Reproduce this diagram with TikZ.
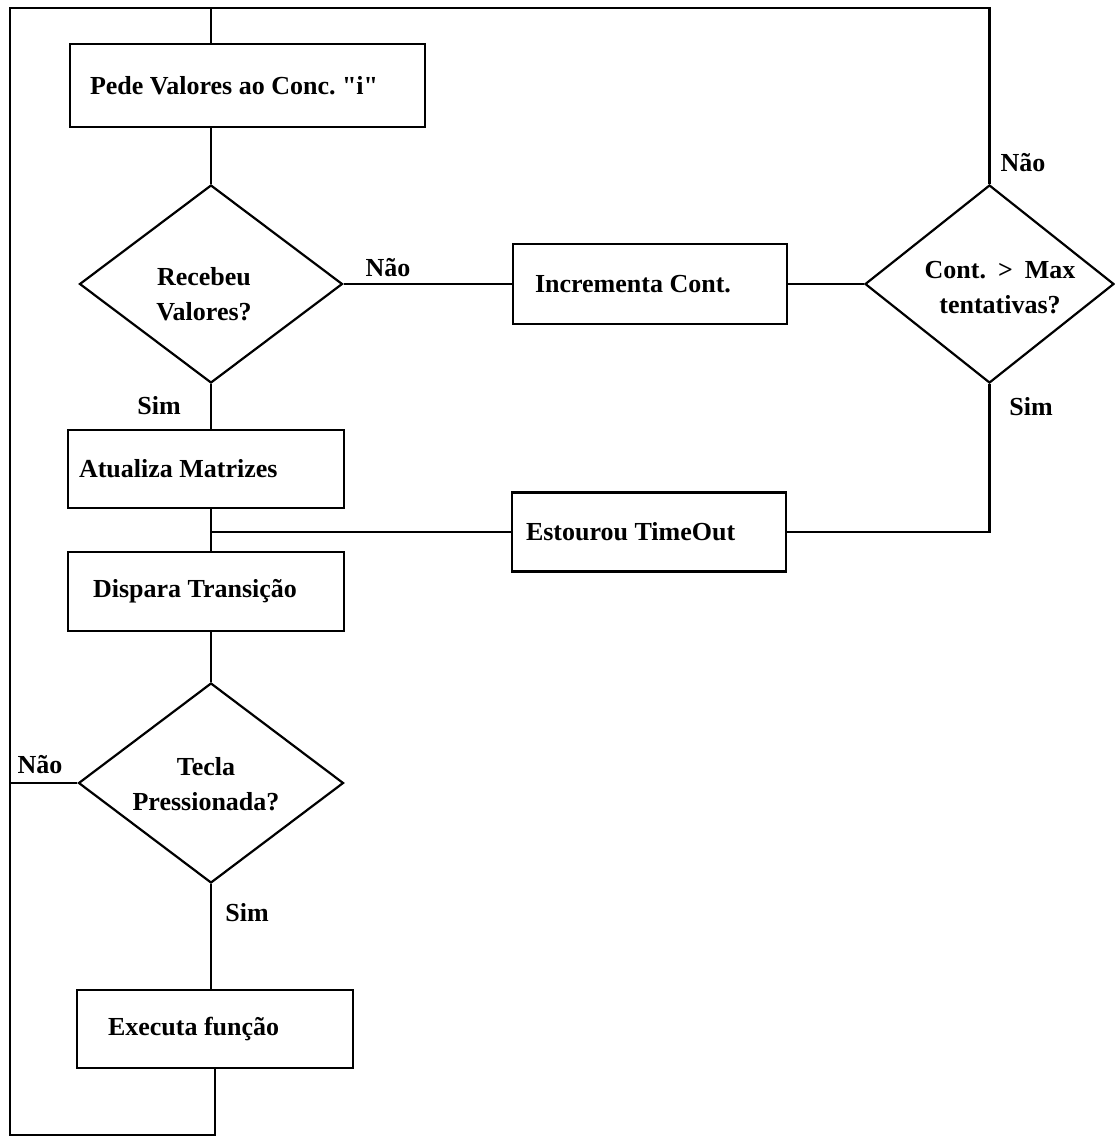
\documentclass[tikz,border=0pt]{standalone}
\usepackage{fontspec}
\setmainfont{Liberation Serif}
\usetikzlibrary{shapes.geometric}
\frenchspacing
\begin{document}
\begin{tikzpicture}[x=1pt,y=-1pt,line width=2.2pt,
  every node/.style={font=\bfseries\fontsize{26}{35}\selectfont},
  box/.style={draw,rectangle,align=flush left,inner ysep=0pt},
  dec/.style={draw,diamond,inner sep=0pt},
  dtext/.style={inner sep=0pt,align=center},
  lbl/.style={inner sep=0pt}]
\useasboundingbox (0,0) rectangle (1114,1137);
% boxes
\node[box,text width=315pt,inner xsep=20pt,minimum height=83pt] (b1) at (247.5,85.5) {Pede Valores ao Conc. \textquotedbl i\textquotedbl};
\node[box,text width=230pt,inner xsep=22pt,minimum height=80pt] (b2) at (650,284) {Incrementa Cont.};
\node[box,text width=254pt,inner xsep=11pt,minimum height=78pt] (b3) at (206,469) {Atualiza Matrizes};
\node[box,text width=246pt,inner xsep=14pt,minimum height=79pt] (b4) at (649,532) {Estourou TimeOut};
\node[box,text width=226pt,inner xsep=25pt,minimum height=79pt] (b5) at (206,591.5) {Dispara Transição};
\node[box,text width=214pt,inner xsep=31pt,minimum height=78pt] (b6) at (215,1029) {Executa função};
% decisions
\node[dec,minimum width=263pt,minimum height=198pt] (d1) at (211,284) {};
\node[dec,minimum width=249pt,minimum height=198pt] (d2) at (989.5,284) {};
\node[dec,minimum width=265pt,minimum height=200pt] (d3) at (211,783) {};
\node[dtext] (t1) at (204,294) {Recebeu\\Valores?};
\node[dtext] (t2) at (1000,288) {Cont.\hspace{12pt}>\hspace{12pt}Max\\tentativas?};
\node[dtext] (t3) at (206,784) {Tecla\\Pressionada?};
% loop corners
\coordinate (TL) at (10,8);
\coordinate (BL) at (10,1135);
% labels
\node[lbl] (l1) at (388,268) {Não};
\node[lbl] (l2) at (159,406) {Sim};
\node[lbl] (l3) at (1023,163) {Não};
\node[lbl] (l4) at (1031,407) {Sim};
\node[lbl] (l5) at (40,765) {Não};
\node[lbl] (l6) at (247,913) {Sim};
% connectors
\draw (d2.north) -- (d2.north |- TL) -- (TL) -- (BL) -- (BL -| b6.south) -- (b6.south);
\draw (d1.north |- TL) -- (d1.north |- b1.north);
\draw (d1.north |- b1.south) -- (d1.north);
\draw (d1.east) -- (b2.west);
\draw (b2.east) -- (d2.west);
\draw (d1.south) -- (d1.south |- b3.north);
\draw (d1.south |- b3.south) -- (d1.south |- b5.north);
\draw (b4.west) -- (b4.west -| d1.south);
\draw (d2.south) |- (b4.east);
\draw (d3.north |- b5.south) -- (d3.north);
\draw (d3.west) -- (d3.west -| BL);
\draw (d3.south) -- (d3.south |- b6.north);
\end{tikzpicture}
\end{document}
